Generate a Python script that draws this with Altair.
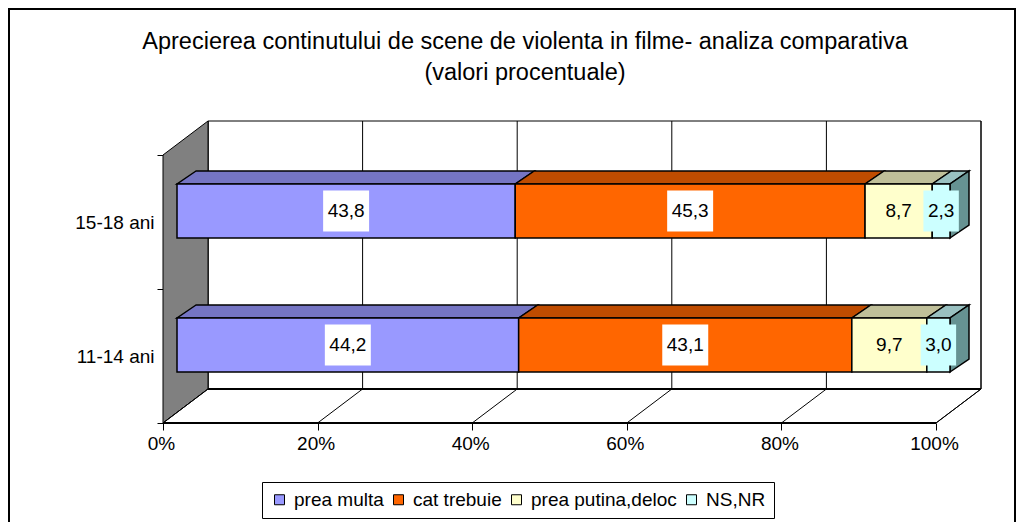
import altair as alt
import pandas as pd

# ---------------- data ----------------
CATEGORIES = ["15-18 ani", "11-14 ani"]
SERIES = ["prea multa", "cat trebuie", "prea putina,deloc", "NS,NR"]
VALUES_15_18 = [43.8, 45.3, 8.7, 2.3]
VALUES_11_14 = [44.2, 43.1, 9.7, 3.0]
X_TICKS = [0, 0.2, 0.4, 0.6, 0.8, 1.0]
TITLE_LINES = [
    "Aprecierea continutului de scene de violenta in filme- analiza comparativa",
    "(valori procentuale)",
]

# ---------------- styles ----------------
FRONT_COLORS = ["#9999FF", "#FF6600", "#FFFFCC", "#CCFFFF"]
TOP_COLORS = ["#7575C3", "#BF4C00", "#BFBF99", "#99C0C0"]
SIDE_COLOR = "#669292"
BOX_COLORS = ["#FFFFFF", "#FFFFFF", "#FFFFCC", "#CCFFFF"]
FONT = "Liberation Sans"
FS = 19

W, H = 773, 268            # front plane of the 3D box
WALL_DX, WALL_DY = 45, 34  # depth of the box (px)
BAR_DX, BAR_DY = 14, 11    # bar front face offset from front plane
DEPTH_DX, DEPTH_DY = 19, 13  # bar depth
BAR_PX = 54
NCAT = len(CATEGORIES)


def ux(px):
    return px / W


def uy(px):
    return px * NCAT / H


# ---------------- tables ----------------
rows = []
for cat, vals in zip(CATEGORIES, [VALUES_15_18, VALUES_11_14]):
    k = NCAT - 1 - CATEGORIES.index(cat)
    total = sum(vals)
    acc = 0.0
    for s, (name, v) in enumerate(zip(SERIES, vals)):
        x0 = acc / total
        acc += v
        x1 = acc / total
        lab = f"{v:.1f}".replace(".", ",")
        digits = sum(ch.isdigit() for ch in lab)
        half = (FS * (0.556 * digits + 0.278) + 9) / 2
        xc = (x0 + x1) / 2
        rows.append(dict(cat=cat, k=k, series=name, s=s, value=v, x0=x0, x1=x1,
                         label=lab, xc=xc, bx0=xc - ux(half), bx1=xc + ux(half),
                         box=BOX_COLORS[s]))
df = pd.DataFrame(rows)

top_rows = []
side_rows = []
for r in rows:
    yc = r["k"] + 0.5
    yft = yc + uy(BAR_DY + BAR_PX / 2)
    yfb = yc + uy(BAR_DY - BAR_PX / 2)
    fid = f"{r['cat']}|{r['s']}"
    for d in (0, 1):
        top_rows.append(dict(fid=fid, fill=TOP_COLORS[r["s"]],
                             yq=yft + d * uy(DEPTH_DY),
                             xa=r["x0"] + ux(BAR_DX) + d * ux(DEPTH_DX),
                             xb=r["x1"] + ux(BAR_DX) + d * ux(DEPTH_DX)))
    if r["s"] == len(SERIES) - 1:
        for d in (0, 1):
            side_rows.append(dict(fid=r["cat"],
                                  xq=r["x1"] + ux(BAR_DX) + d * ux(DEPTH_DX),
                                  ylo=yfb + d * uy(DEPTH_DY),
                                  yhi=yft + d * uy(DEPTH_DY)))
top_df = pd.DataFrame(top_rows)
side_df = pd.DataFrame(side_rows)

box_df = pd.DataFrame([dict(x0=0.0, x1=1.0, y0=0.0, y1=float(NCAT))])
sidewall_df = pd.DataFrame([
    dict(xq=0.0, ylo=0.0, yhi=float(NCAT)),
    dict(xq=ux(WALL_DX), ylo=uy(WALL_DY), yhi=NCAT + uy(WALL_DY)),
])
floor_df = pd.DataFrame([
    dict(yq=0.0, xa=0.0, xb=1.0),
    dict(yq=uy(WALL_DY), xa=ux(WALL_DX), xb=1 + ux(WALL_DX)),
])
tick_df = pd.DataFrame(dict(v=X_TICKS))
tick_df["vb"] = tick_df["v"] + ux(WALL_DX)
tick_df["y0"] = 0.0
tick_df["yb"] = uy(WALL_DY)
tick_df["ytop"] = float(NCAT)
edge_df = pd.DataFrame([
    dict(xa=0.0, xb=1.0, yq=0.0),
    dict(xa=ux(WALL_DX), xb=1 + ux(WALL_DX), yq=uy(WALL_DY)),
])

# ---------------- scales / axes ----------------
XS = alt.Scale(domain=[0, 1], nice=False, zero=False)
X_AXIS = alt.Axis(values=X_TICKS, format=".0%", grid=False, domain=False, title=None,
                  tickSize=7, tickColor="black", labelFont=FONT, labelFontSize=FS,
                  labelColor="black", labelPadding=4, labelFlush=False, labelOffset=-2)
YQ = alt.Scale(domain=[0, NCAT], nice=False, zero=False)
YB = alt.Scale(domain=CATEGORIES, paddingInner=0, paddingOuter=0)
Y_AXIS = alt.Axis(title=None, tickBand="extent", domain=False, tickSize=6, tickColor="black",
                  labelFont=FONT, labelFontSize=FS, labelColor="black", labelPadding=3,
                  labelLimit=300)


def X(f):
    return alt.X(f, type="quantitative", scale=XS, axis=X_AXIS, stack=None)


def X2(f):
    return alt.X2(f)


def YQf(f):
    return alt.Y(f, type="quantitative", scale=YQ, axis=None, stack=None)


# ---------------- decoration layers (quantitative y) ----------------
border = alt.Chart(pd.DataFrame({"i": [0]})).mark_rect(
    fill=None, stroke="black", strokeWidth=2
).encode(x=alt.value(-154), x2=alt.value(852), y=alt.value(-146), y2=alt.value(400))

title = alt.Chart(pd.DataFrame({"i": [0]})).mark_text(
    text=TITLE_LINES, font=FONT, fontSize=23.5, lineHeight=31, align="center",
    baseline="alphabetic", color="black"
).encode(x=alt.value(525 - 163), y=alt.value(49 - 155))

back_wall = alt.Chart(box_df).mark_rect(
    fill="white", stroke="black", strokeWidth=1,
    xOffset=WALL_DX, x2Offset=WALL_DX, yOffset=-WALL_DY, y2Offset=-WALL_DY
).encode(x=X("x0"), x2=X2("x1"), y=YQf("y0"), y2=alt.Y2("y1"))

back_grid = alt.Chart(tick_df).mark_rule(
    color="black", strokeWidth=1,
    xOffset=WALL_DX, x2Offset=WALL_DX, yOffset=-WALL_DY, y2Offset=-WALL_DY
).encode(x=X("v"), y=YQf("y0"), y2=alt.Y2("ytop"))

side_wall = alt.Chart(sidewall_df).mark_area(
    orient="vertical", fill="#808080", stroke="black", strokeWidth=1
).encode(x=X("xq"), y=YQf("ylo"), y2=alt.Y2("yhi"))

floor = alt.Chart(floor_df).mark_area(
    orient="horizontal", fill="white", stroke="black", strokeWidth=1
).encode(y=YQf("yq"), x=X("xa"), x2=X2("xb"))

floor_grid = alt.Chart(tick_df).mark_rule(color="black", strokeWidth=1).encode(
    x=X("vb"), x2=X2("v"), y=YQf("yb"), y2=alt.Y2("y0"))

floor_edges = alt.Chart(edge_df).mark_rule(color="black", strokeWidth=2).encode(
    x=X("xa"), x2=X2("xb"), y=YQf("yq"))

top_faces = alt.Chart(top_df).mark_area(
    orient="horizontal", stroke="black", strokeWidth=1.5
).encode(y=YQf("yq"), x=X("xa"), x2=X2("xb"), detail="fid:N",
         fill=alt.Fill("fill:N", scale=None))

side_faces = alt.Chart(side_df).mark_area(
    orient="vertical", fill=SIDE_COLOR, stroke="black", strokeWidth=1.5
).encode(x=X("xq"), y=YQf("ylo"), y2=alt.Y2("yhi"), detail="fid:N")

deco = alt.layer(border, title, back_wall, back_grid, side_wall, floor, floor_grid,
                 floor_edges, top_faces, side_faces)

# ---------------- bars (band y) ----------------
YCAT = alt.Y("cat:N", scale=YB, axis=Y_AXIS, sort=CATEGORIES)

bars = alt.Chart(df).mark_bar(
    orient="horizontal", size=BAR_PX, stroke="black", strokeWidth=1.5,
    xOffset=BAR_DX, x2Offset=BAR_DX, yOffset=-BAR_DY, y2Offset=-BAR_DY
).encode(
    x=X("x0"), x2=X2("x1"), y=YCAT,
    color=alt.Color("series:N", scale=alt.Scale(domain=SERIES, range=FRONT_COLORS),
                    legend=alt.Legend(title=None, orient="none", legendX=99, legendY=327,
                                      direction="horizontal", columns=4,
                                      labelFont=FONT, labelFontSize=FS, labelColor="black",
                                      symbolType="square", symbolSize=100,
                                      symbolStrokeColor="black", symbolStrokeWidth=1,
                                      strokeColor="black", fillColor="white",
                                      padding=8, columnPadding=5, labelOffset=5)),
)

boxes = alt.Chart(df).mark_bar(
    orient="horizontal", size=41,
    xOffset=BAR_DX, x2Offset=BAR_DX, yOffset=-BAR_DY, y2Offset=-BAR_DY
).encode(x=X("bx0"), x2=X2("bx1"), y=YCAT, fill=alt.Fill("box:N", scale=None))

labels = alt.Chart(df).mark_text(
    font=FONT, fontSize=FS, color="black", align="center", baseline="middle",
    xOffset=BAR_DX, yOffset=-BAR_DY
).encode(x=X("xc"), y=YCAT, text="label:N")

front = alt.layer(bars, boxes, labels)

chart = alt.layer(deco, front).resolve_scale(y="independent").properties(
    width=W, height=H,
    autosize=alt.AutoSizeParams(type="none"),
    padding={"left": 155, "top": 147, "right": 80, "bottom": 110},
).configure_view(stroke=None).configure(background="white")

chart.save("out.html", embed_options={"renderer": "svg", "actions": False})
